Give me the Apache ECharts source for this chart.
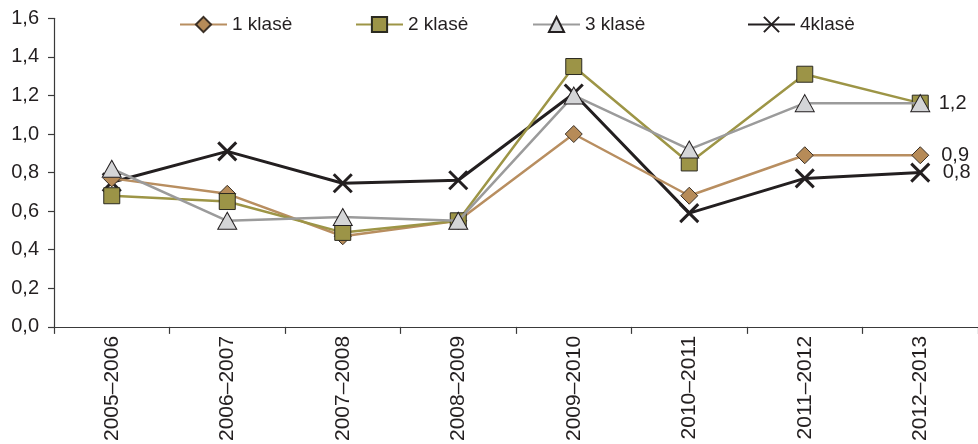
<!DOCTYPE html>
<html>
<head>
<meta charset="utf-8">
<script src="https://cdn.jsdelivr.net/npm/echarts@6/dist/echarts.min.js"></script>
<style>
html,body{margin:0;padding:0;background:#fff;}
#c{width:978px;height:444px;}
</style>
</head>
<body>
<div id="c"></div>
<script>
const categories = ['2005–2006','2006–2007','2007–2008','2008–2009','2009–2010','2010–2011','2011–2012','2012–2013'];
const seriesNames = ['1 klasė','2 klasė','3 klasė','4klasė'];
const klase1 = [0.77, 0.69, 0.47, 0.55, 1.00, 0.68, 0.89, 0.89];
const klase2 = [0.68, 0.65, 0.49, 0.55, 1.35, 0.85, 1.31, 1.16];
const klase3 = [0.82, 0.55, 0.57, 0.55, 1.20, 0.92, 1.16, 1.16];
const klase4 = [0.75, 0.91, 0.745, 0.76, 1.21, 0.59, 0.77, 0.80];
const yTicks = [0, 0.2, 0.4, 0.6, 0.8, 1.0, 1.2, 1.4, 1.6];

const FONT = '"Liberation Sans", Arial, sans-serif';
const TXT = '#231f20';
const fmt = v => Number(v).toFixed(1).replace('.', ',');
const last = categories.length - 1;

function endLabel(show, dist) {
  return {
    show: show,
    position: 'right',
    distance: dist,
    color: TXT,
    fontFamily: FONT,
    fontSize: 20,
    formatter: p => p.dataIndex === last ? fmt(p.value) : ''
  };
}

const chart = echarts.init(document.getElementById('c'), null, {renderer: 'canvas'});

const legendLefts = [179, 355, 532, 747];
const legends = seriesNames.map((n, i) => ({
  data: [n],
  left: legendLefts[i],
  top: 15,
  padding: 0,
  itemWidth: 47,
  itemHeight: 19,
  itemGap: 0,
  textStyle: {fontFamily: FONT, fontSize: 19, color: TXT},
  selectedMode: false
}));

chart.setOption({
  animation: false,
  backgroundColor: '#fff',
  legend: legends,
  grid: {left: 54, top: 18.3, width: 926, height: 310},
  xAxis: {
    type: 'category',
    data: categories,
    boundaryGap: true,
    axisLine: {show: true, lineStyle: {color: '#3a3a3a', width: 1.2}},
    axisTick: {show: true, length: 7, lineStyle: {color: '#3a3a3a', width: 1.2}},
    axisLabel: {rotate: 90, interval: 0, margin: 9, fontFamily: FONT, fontSize: 21, color: TXT},
    splitLine: {show: false}
  },
  yAxis: {
    type: 'value',
    min: yTicks[0],
    max: yTicks[yTicks.length - 1],
    interval: 0.2,
    axisLine: {show: true, lineStyle: {color: '#3a3a3a', width: 1.2}},
    axisTick: {show: true, length: 6, lineStyle: {color: '#3a3a3a', width: 1.2}},
    axisLabel: {margin: 15, fontFamily: FONT, fontSize: 20, color: TXT, formatter: v => fmt(v)},
    splitLine: {show: false}
  },
  series: [
    {
      name: seriesNames[3], type: 'line', data: klase4, z: 2,
      symbol: 'path://M0,0L10,10M10,0L0,10', symbolSize: 18,
      lineStyle: {color: '#231f20', width: 3},
      itemStyle: {color: '#231f20', borderColor: '#231f20', borderWidth: 3},
      label: endLabel(true, 12)
    },
    {
      name: seriesNames[0], type: 'line', data: klase1, z: 3,
      symbol: 'diamond', symbolSize: 17,
      lineStyle: {color: '#b88e60', width: 2.5},
      itemStyle: {color: '#b68b58', borderColor: '#3b3026', borderWidth: 1},
      label: endLabel(true, 12)
    },
    {
      name: seriesNames[1], type: 'line', data: klase2, z: 4,
      symbol: 'rect', symbolSize: 16,
      lineStyle: {color: '#9d9546', width: 2.5},
      itemStyle: {color: '#9c9447', borderColor: '#2b2a20', borderWidth: 1},
      label: endLabel(true, 10)
    },
    {
      name: seriesNames[2], type: 'line', data: klase3, z: 5,
      symbol: 'triangle', symbolSize: [19, 17],
      lineStyle: {color: '#9b9b9b', width: 2.5},
      itemStyle: {color: '#d4d5d7', borderColor: '#231f20', borderWidth: 1},
      label: endLabel(false, 10)
    }
  ]
});
</script>
</body>
</html>
